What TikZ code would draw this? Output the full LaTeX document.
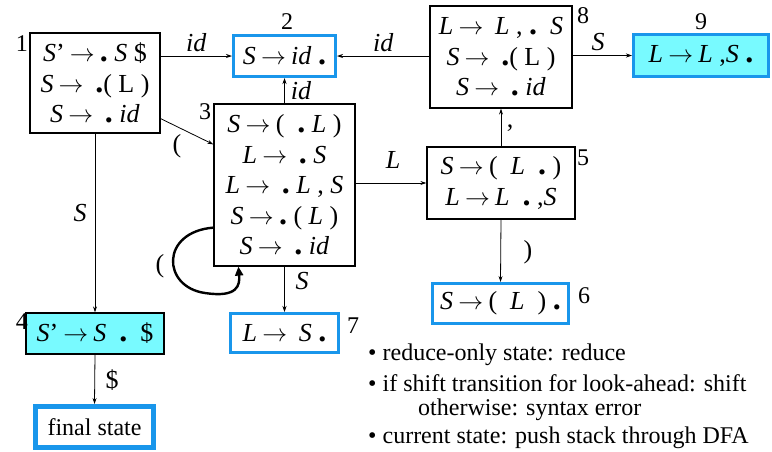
\documentclass[tikz,border=0pt]{standalone}
\usepackage{fontspec}
\setmainfont{Liberation Serif}
\usetikzlibrary{arrows.meta,calc}
\definecolor{bblue}{RGB}{25,150,235}
\definecolor{ccyan}{RGB}{120,250,255}
\newcommand{\I}[1]{\textit{#1}}
\newcommand{\Dt}{{\fontsize{32}{30}\selectfont\bfseries .}}
\newcommand{\Ar}{\hspace{0.2em}$\rightarrow$\hspace{0.2em}}
\newcommand{\gp}{\hspace{0.25em}}
\begin{document}
\begin{tikzpicture}[x=1pt,y=-1pt,
  every node/.style={inner sep=0pt},
  st/.style={draw,line width=1.2pt,align=center,font=\fontsize{26}{30.5}\selectfont},
  rst/.style={st,draw=bblue,line width=3pt},
  acc/.style={rst,fill=ccyan},
  blk/.style={st,fill=ccyan,line width=1.2pt},
  arr/.style={line width=0.8pt,-{Stealth[length=6pt,width=4pt]}},
  lab/.style={font=\fontsize{26}{30}\selectfont},
  num/.style={font=\fontsize{24}{28}\selectfont},
  txt/.style={font=\fontsize{24}{28}\selectfont,anchor=west}]
\useasboundingbox (0,0) rectangle (772,451);
% states
\node[st,minimum width=130,minimum height=100] (b1) at (95,83)
  {\I{S}’\Ar\Dt\gp\I{S}\gp\$\\ \I{S}\Ar\gp\Dt(\gp L\gp)\\ \I{S}\Ar\gp\Dt\gp\I{id}};
\node[rst,minimum width=102,minimum height=41] (b2) at (284.5,56)
  {\I{S}\Ar\I{id}\gp\Dt};
\node[st,minimum width=141,minimum height=162] (b3) at (284.5,185)
  {\I{S}\Ar(\gp\gp\Dt\gp\I{L}\gp)\\ \I{L}\Ar\gp\Dt\gp\I{S}\\ \I{L}\Ar\gp\Dt\gp\I{L}\gp,\gp\I{S}\\ \I{S}\Ar\Dt\gp(\gp\I{L}\gp)\\ \I{S}\Ar\gp\Dt\gp\I{id}};
\node[blk,minimum width=138,minimum height=41] (b4) at (95,333.5)
  {\I{S}’\Ar\I{S}\gp\gp\Dt\gp\gp\$};
\node[st,minimum width=148,minimum height=72] (b5) at (501,183)
  {\I{S}\Ar(\gp\gp\I{L}\gp\gp\Dt\gp)\\ \I{L}\Ar\I{L}\gp\gp\Dt\gp,\I{S}};
\node[rst,minimum width=136,minimum height=40] (b6) at (500.5,303.5)
  {\I{S}\Ar(\gp\gp\I{L}\gp\gp)\gp\Dt};
\node[rst,minimum width=108,minimum height=39] (b7) at (284.5,333)
  {\I{L}\Ar\gp\I{S}\gp\Dt};
\node[st,minimum width=142,minimum height=102] (b8) at (501,57)
  {\I{L}\Ar\gp\I{L}\gp,\gp\Dt\gp\gp\I{S}\\ \I{S}\Ar\gp\Dt(\gp L\gp)\\ \I{S}\Ar\gp\Dt\gp\I{id}};
\node[acc,minimum width=135,minimum height=42] (b9) at (701,55.5)
  {\I{L}\Ar\I{L}\gp,\I{S}\gp\Dt};
\node[st,draw=bblue,line width=5pt,minimum width=118,minimum height=41,font=\fontsize{24}{28}\selectfont] (fin) at (94.5,427) {final state};
% state numbers
\node[num] (n1) at (22,44) {1};
\node[num] (n2) at (287,22) {2};
\node[num] (n3) at (205,112) {3};
\node[num] (n4) at (22,322) {4};
\node[num] (n5) at (583,158) {5};
\node[num] (n6) at (584,296) {6};
\node[num] (n7) at (353,326) {7};
\node[num] (n8) at (583,16) {8};
\node[num] (n9) at (701,22) {9};
% transitions
\draw[arr] (b1.east |- b2.west) -- (b2.west) node[lab,midway,above=4pt] (l12) {\I{id}};
\draw[arr] (b8.west |- b2.east) -- (b2.east) node[lab,midway,above=4pt] (l82) {\I{id}};
\draw[arr] (b3.north) -- (b2.south) node[lab,midway,right=6pt] (l32) {\I{id}};
\draw[arr] ($(b1.south east)+(0,-15)$) -- ($(b3.north west)+(0,41)$);
\node[lab] (l13) at (177,146) {(};
\draw[arr] (b1.south) -- (b4.north);
\node[lab] (l14) at (80,213) {\I{S}};
\draw[arr] (b4.south) -- (fin.north);
\node[lab] (l4f) at (112,380) {\$};
\draw[arr] (b3.east |- b5.west) -- (b5.west);
\node[lab] (l35) at (393,160) {\I{L}};
\draw[arr] (b3.south) -- (b7.north);
\node[lab] (l37) at (302,281) {\I{S}};
\draw[arr] (b5.north) -- (b8.south);
\node[lab] (l58) at (510,128) {,};
\draw[arr] (b5.south) -- (b6.north);
\node[lab] (l56) at (528,252) {)};
\draw[arr] (b8.east |- b9.west) -- (b9.west);
\node[lab] (l89) at (598,42) {\I{S}};
% self loop on state 3
\draw[line width=2.4pt,-{Triangle[length=9pt,width=8pt]}]
  ($(b3.south west)+(0,-39)$) .. controls (160,232) and (162,287) .. (205,293)
  .. controls (238,298) and (240,285) .. ($(b3.south west)+(25,0)$);
\node[lab] (l33) at (160,266) {(};
% notes
\node[txt] (t1) at (368,355) {• reduce-only state: reduce};
\node[txt] (t2) at (368,383) {• if shift transition for look-ahead: shift};
\node[txt] (t3) at (418,410) {otherwise: syntax error};
\node[txt] (t4) at (368,438) {• current state: push stack through DFA};
\end{tikzpicture}
\end{document}
